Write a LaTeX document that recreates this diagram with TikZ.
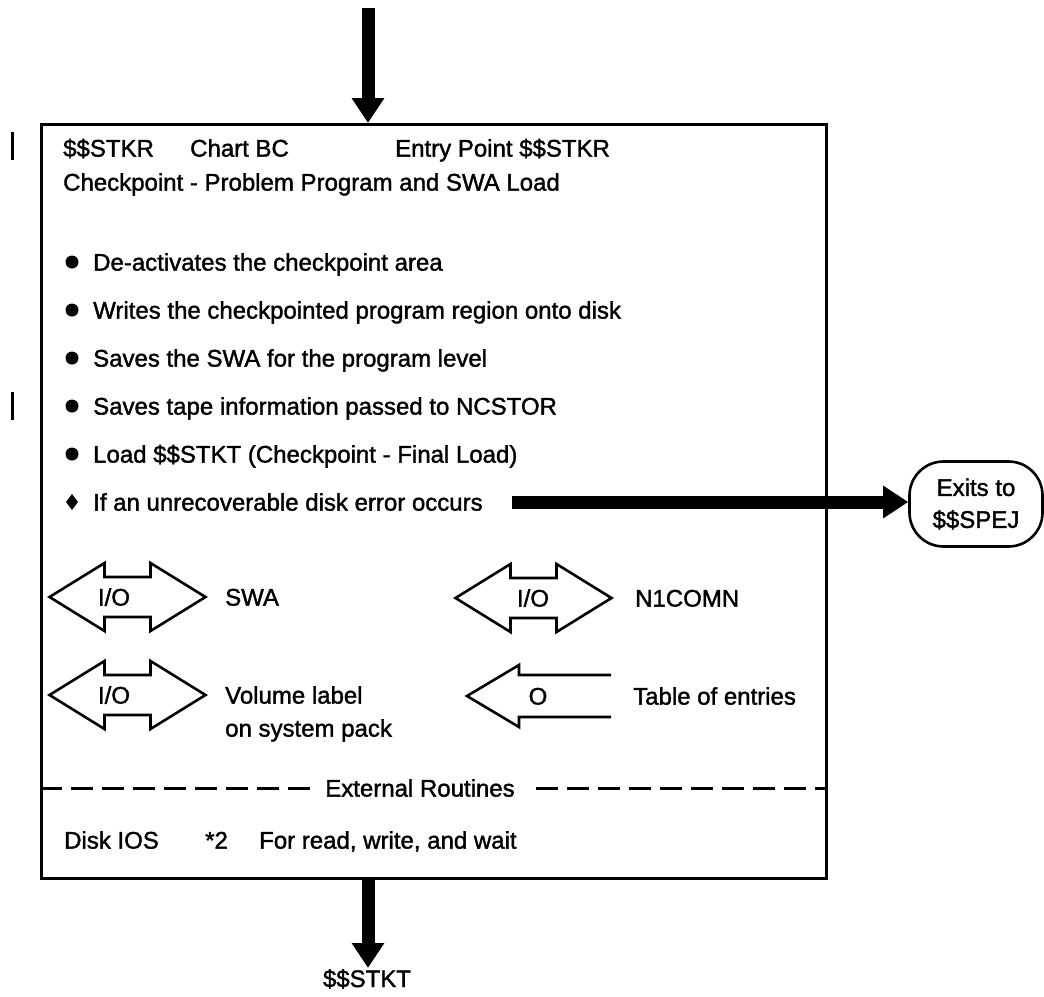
\documentclass[tikz,border=0pt]{standalone}
\usepackage{fontspec}
\setmainfont{Liberation Sans}[FakeBold=1.5]
\usetikzlibrary{arrows.meta}
\begin{document}
\begin{tikzpicture}[x=1pt,y=-1pt,
  txt/.style={anchor=base west,inner sep=0pt,font=\fontsize{24}{29}\selectfont},
  ctxt/.style={anchor=base,inner sep=0pt,font=\fontsize{24}{29}\selectfont},
  flow/.style={line width=13pt,-{Triangle[width=31pt,length=25pt]}},
  shp/.style={line width=2.6pt,line join=miter},
  dashline/.style={line width=3pt,dash pattern=on 22pt off 9pt},
  iobox/.pic={\draw[shp] (-78,0) -- (-23,-34) -- (-23,-20) -- (23,-20) -- (23,-34) -- (78,0) -- (23,34) -- (23,20) -- (-23,20) -- (-23,34) -- cycle;}
]
\useasboundingbox (0,0) rectangle (1044,996);
% main box
\node[draw,line width=2.6pt,minimum width=785pt,minimum height=754pt,anchor=north west,inner sep=0pt] (box) at (40,123) {};
% revision bars
\draw[line width=3pt] (12,132) -- (12,160);
\draw[line width=3pt] (12,392) -- (12,420);
% header
\node[txt] (h1) at (63,156.6) {\$\$STKR};
\node[txt] (h2) at (190,156.6) {Chart BC};
\node[txt] (h3) at (395,156.6) {Entry Point \$\$STKR};
\node[txt] (h4) at (63,190.6) {Checkpoint - Problem Program and SWA Load};
% bullets
\fill (72,262) circle (6.5);
\fill (72,310) circle (6.5);
\fill (72,358) circle (6.5);
\fill (72,406) circle (6.5);
\fill (72,454) circle (6.5);
\fill (72,494) -- (78,502) -- (72,510) -- (66,502) -- cycle;
\node[txt] (b1) at (93,270.6) {De-activates the checkpoint area};
\node[txt] (b2) at (93,318.6) {Writes the checkpointed program region onto disk};
\node[txt] (b3) at (93,366.6) {Saves the SWA for the program level};
\node[txt] (b4) at (93,414.6) {Saves tape information passed to NCSTOR};
\node[txt] (b5) at (93,462.6) {Load \$\$STKT (Checkpoint - Final Load)};
\node[txt] (b6) at (93,510.6) {If an unrecoverable disk error occurs};
% exit terminal
\node[draw,line width=2.6pt,rounded corners=34pt,minimum width=133pt,minimum height=85pt,inner sep=0pt,align=center,font=\fontsize{24}{32}\selectfont] (term) at (976,504) {Exits to\\\$\$SPEJ};
\coordinate (xs) at (512,502);
\draw[flow] (xs) -- (xs -| term.west);
% I/O shapes
\pic at (127.5,597) {iobox};
\pic at (533.5,598) {iobox};
\pic at (127.5,695) {iobox};
\node[ctxt] (io1) at (114,605.6) {I/O};
\node[ctxt] (io2) at (533,606.6) {I/O};
\node[ctxt] (io3) at (114,703.6) {I/O};
\node[txt] (l1) at (225,605.6) {SWA};
\node[txt] (l2) at (635,606.6) {N1COMN};
\node[txt] (l3) at (225,703.6) {Volume label};
\node[txt] (l4) at (225,736.6) {on system pack};
% output arrow
\draw[shp] (611,675) -- (519,675) -- (519,665) -- (467,696) -- (519,727) -- (519,717) -- (611,717);
\node[ctxt] (o1) at (538,704.6) {O};
\node[txt] (l5) at (633,704.6) {Table of entries};
% external routines
\coordinate (dl) at (40,788);
\coordinate (dr) at (825,788);
\draw[dashline] (dl) -- (dr);
\node[fill=white,inner xsep=12pt,inner ysep=2pt,font=\fontsize{24}{29}\selectfont] (ext) at (420,788) {External Routines};
\node[txt] (d1) at (64,848.6) {Disk IOS};
\node[txt] (d2) at (205,848.6) {*2};
\node[txt] (d3) at (259,848.6) {For read, write, and wait};
% flow arrows
\coordinate (tin) at (368,8);
\draw[flow] (tin) -- (tin |- box.north);
\coordinate (bout) at (368,968);
\draw[flow] (bout |- box.south) -- (bout);
\node[ctxt] (out) at (367,987) {\$\$STKT};
\end{tikzpicture}
\end{document}
